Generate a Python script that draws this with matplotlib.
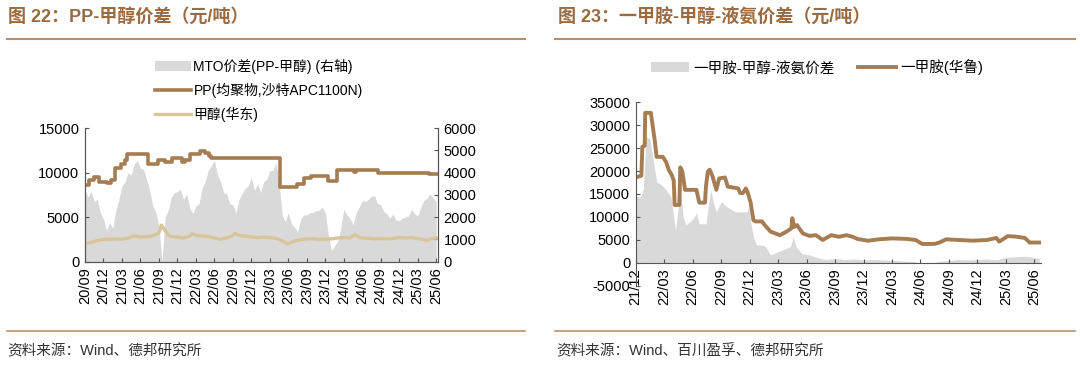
import numpy as np
import matplotlib
matplotlib.use("Agg")
import matplotlib.pyplot as plt
from matplotlib.patches import Patch
from matplotlib.lines import Line2D

plt.rcParams['font.family'] = ['Liberation Sans', 'Noto Sans CJK SC']
plt.rcParams['axes.unicode_minus'] = False

# ---- left chart data (months since 2020-09) ----
left_ticks = ['20/09', '20/12', '21/03', '21/06', '21/09', '21/12', '22/03', '22/06',
              '22/09', '22/12', '23/03', '23/06', '23/09', '23/12', '24/03', '24/06',
              '24/09', '24/12', '25/03', '25/06']

pp_m = [0, 0.6, 1.5, 2.3, 3.6, 4.3, 4.9, 5.9, 6.5, 6.8, 10.2, 11.8, 13.0, 14.1, 15.7,
        16.2, 17.0, 18.6, 19.5, 20.2, 20.5, 31.6, 34.4, 35.5, 36.6, 39.5, 40.9, 43.6,
        44.0, 47.6, 55.9, 57.3]
pp_v = [8600, 9180, 9550, 8990, 8800, 9200, 10560, 10950, 11430, 12070, 10950, 11430,
        11200, 11650, 11200, 11430, 12070, 12450, 12200, 11930, 11600, 8420, 8700, 9370,
        9660, 9065, 10300, 10100, 10300, 10000, 9800, 9800]

meoh_m = [0, 1, 2, 3, 4, 5, 6, 7, 8, 9, 10, 11, 12, 12.4, 13, 13.5, 14, 15, 16, 17,
          17.3, 18, 19, 20, 21, 22, 23, 24, 24.3, 25, 26, 27, 28, 29, 30, 31, 32,
          32.8, 34, 35, 36, 37, 38, 39, 40, 41, 42, 43, 43.8, 44.5, 45, 46, 47, 48,
          49, 50, 51, 52, 53, 54, 55, 55.5, 56, 57, 57.3]
meoh_v = [2050, 2150, 2350, 2500, 2480, 2550, 2500, 2650, 2900, 2750, 2800, 2900,
          3200, 4100, 3500, 3000, 2800, 2750, 2650, 2850, 3150, 2950, 2850, 2800,
          2650, 2500, 2650, 2900, 3150, 2950, 2850, 2750, 2700, 2750, 2700, 2600,
          2350, 1970, 2300, 2450, 2550, 2550, 2500, 2500, 2550, 2650, 2700, 2650,
          3050, 2700, 2650, 2600, 2550, 2600, 2550, 2600, 2700, 2650, 2700, 2600,
          2450, 2350, 2550, 2650, 2600]

mto_m = list(np.arange(0, 57.5, 0.5))
mto_v = [3200, 2900, 3150, 2700, 2800, 2200, 1900, 1400, 1750, 1500, 2300, 2800,
         3400, 3600, 4000, 3900, 4400, 4550, 4200, 4150, 3700, 3200, 2500, 2200,
         1600, 0, 2000, 2300, 2900, 3100, 3150, 3250, 2800, 3050, 2400, 2150,
         2500, 2600, 3300, 3600, 4100, 4300, 4550, 3900, 3600, 3100, 3050, 2600,
         2550, 2200, 2800, 3050, 3300, 3400, 3800, 3200, 3500, 3100, 3600, 3700,
         4100, 4100, 4450, 3600, 2100, 1800, 2200, 1700, 1550, 1350, 1900, 2100,
         2100, 2200, 2200, 2300, 2300, 2450, 2200, 1200, 500, 700, 900, 1500,
         2350, 2100, 1950, 1650, 2200, 2450, 2750, 2700, 2800, 2950, 2950, 2600,
         2550, 2250, 2150, 1950, 2150, 1850, 1850, 1950, 2000, 2050, 2350, 2150,
         2050, 2450, 2750, 2850, 3050, 2850, 2700]

# ---- right chart data (months since 2021-12) ----
right_ticks = ['21/12', '22/03', '22/06', '22/09', '22/12', '23/03', '23/06', '23/09',
               '23/12', '24/03', '24/06', '24/09', '24/12', '25/03', '25/06']

mma_m = [0, 0.6, 0.7, 0.95, 1.0, 1.6, 1.8, 2.0, 2.2, 2.85, 3.2, 3.5, 3.8, 4.0, 4.05,
         4.1, 4.6, 4.7, 4.9, 5.0, 5.2, 6.4, 6.7, 7.3, 7.4, 7.6, 7.8, 8.1, 8.5, 8.8,
         9.4, 9.7, 10.8, 11.0, 11.3, 11.6, 11.8, 12.1, 12.4, 12.6, 13.3, 13.6, 14.2,
         15.2, 15.9, 16.4, 16.5, 16.7, 17.0, 17.6, 18.3, 19.0, 19.7, 20.6, 21.4,
         22.2, 22.8, 23.4, 24.5, 25.6, 27.0, 28.5, 29.5, 30.2, 31.5, 32.0, 32.7,
         34.1, 35.5, 37.0, 38.0, 38.3, 39.2, 40.0, 41.0, 41.5, 42.5]
mma_v = [18600, 19000, 25300, 25500, 32700, 32700, 29700, 26800, 23100, 23100, 22000,
         20200, 19100, 18000, 15800, 12600, 12600, 20800, 20000, 18700, 15900, 15900,
         13100, 13100, 16600, 19900, 20300, 18800, 15900, 18400, 18600, 16600, 16200,
         15200, 15200, 16200, 15300, 13200, 9300, 9000, 9000, 8200, 6800, 6000, 6800,
         7500, 9700, 7800, 8200, 6400, 5850, 6000, 4950, 6000, 5670, 6000, 5700, 5160,
         4800, 5100, 5300, 5200, 4950, 4080, 4100, 4400, 5100, 4950, 4800, 4950, 5400,
         4600, 5800, 5700, 5400, 4400, 4400]

spread_m = [0, 0.5, 0.8, 1.1, 1.5, 1.9, 2.2, 2.7, 3.2, 3.7, 4.0, 4.2, 4.7, 5.0, 5.3,
            6.0, 6.4, 6.7, 7.4, 7.9, 8.2, 8.5, 9.0, 9.6, 10.5, 11.7, 11.9, 12.1, 12.4,
            12.7, 13.5, 13.8, 14.2, 15.0, 16.3, 16.6, 16.9, 17.5, 18.3, 19.4, 20, 21,
            22, 23, 24, 25, 26, 27, 28, 29, 29.5, 30, 31, 32, 33, 34, 35, 36, 37, 38,
            39, 40, 41, 41.5, 42, 42.5]
spread_v = [14500, 14300, 16000, 27500, 27000, 21700, 17700, 17000, 15900, 14400,
            10000, 7100, 15900, 10000, 8200, 9500, 10800, 8500, 8500, 15900, 13000,
            11100, 13300, 12200, 11100, 11100, 12200, 9000, 5700, 3900, 3800, 3100,
            1700, 2400, 3500, 5700, 3500, 2000, 1700, 950, 700, 900, 700, 800, 600,
            700, 600, 500, 400, 300, 200, -100, -200, 300, 500, 700, 600, 700, 800,
            600, 1200, 1300, 1400, 1300, 1100, 1000]

brown = '#A67C52'
tan = '#D9C59C'
grey = '#D9D9D9'
title_c = '#9A6A40'
rule_c = '#B8916C'

fig = plt.figure(figsize=(10.8, 3.68), dpi=100)

# ---- frame text ----
fig.text(0.0074, 0.951, '图 22：PP-甲醇价差（元/吨）', fontsize=13, fontweight='bold',
         color=title_c, va='center')
fig.text(0.5165, 0.951, '图 23：一甲胺-甲醇-液氨价差（元/吨）', fontsize=13,
         fontweight='bold', color=title_c, va='center')
for x0, x1 in [(0.0065, 0.486), (0.514, 0.995)]:
    fig.add_artist(Line2D([x0, x1], [0.895, 0.895], color=rule_c, lw=1.5))
    fig.add_artist(Line2D([x0, x1], [0.1005, 0.1005], color=rule_c, lw=1.2))
fig.text(0.0065, 0.045, '资料来源：Wind、德邦研究所', fontsize=10.5, color='#333333', va='center')
fig.text(0.5155, 0.045, '资料来源：Wind、百川盈孚、德邦研究所', fontsize=10.5,
         color='#333333', va='center')

# ---- left chart ----
ax = fig.add_axes([0.0787, 0.2894, 0.3269, 0.362])
ax2 = ax.twinx()
ax2.fill_between(mto_m, 0, mto_v, color=grey, lw=0)
ax.plot(pp_m, pp_v, color=brown, lw=2.6, drawstyle='steps-post')
ax.plot(meoh_m, meoh_v, color=tan, lw=2.4)
ax.set_zorder(ax2.get_zorder() + 1)
ax.patch.set_visible(False)

ax.set_xlim(0, 57.3)
ax.set_ylim(0, 15000)
ax2.set_ylim(0, 6000)
ax.set_yticks(range(0, 15001, 5000))
ax2.set_yticks(range(0, 6001, 1000))
ax.set_xticks(range(0, 58, 3))
ax.set_xticklabels(left_ticks, rotation=90)
for a in (ax, ax2):
    a.spines['top'].set_visible(False)
    for s in a.spines.values():
        s.set_color('#555555')
        s.set_linewidth(0.8)
    a.tick_params(direction='in', length=3, labelsize=10.5, color='#555555', pad=4)

fig.legend(handles=[Patch(color=grey, lw=0),
                    Line2D([], [], color=brown, lw=2.6),
                    Line2D([], [], color=tan, lw=2.4)],
           labels=['MTO价差(PP-甲醇) (右轴)', 'PP(均聚物,沙特APC1100N)', '甲醇(华东)'],
           loc='upper left', bbox_to_anchor=(0.138, 0.855), frameon=False,
           fontsize=10, handlelength=2.6, handletextpad=0.2, labelspacing=0.62,
           borderaxespad=0)

# ---- right chart ----
bx = fig.add_axes([0.5886, 0.2239, 0.3753, 0.4981])
bx.spines['top'].set_visible(False)
bx.spines['right'].set_visible(False)
bx.spines['bottom'].set_position(('data', 0))
bx.fill_between(spread_m, 0, spread_v, color=grey, lw=0)
bx.plot(mma_m, mma_v, color=brown, lw=2.8)
bx.set_xlim(0, 42.7)
bx.set_ylim(-5000, 35000)
bx.set_yticks(range(-5000, 35001, 5000))
bx.set_xticks(range(0, 43, 3))
bx.set_xticklabels(right_ticks, rotation=90)
for s in bx.spines.values():
    s.set_color('#555555')
    s.set_linewidth(0.8)
bx.tick_params(direction='in', length=3, labelsize=10.5, color='#555555', pad=4)

fig.legend(handles=[Patch(color=grey, lw=0), Line2D([], [], color=brown, lw=2.8)],
           labels=['一甲胺-甲醇-液氨价差', '一甲胺(华鲁)'],
           loc='center', bbox_to_anchor=(0.757, 0.817), ncol=2, frameon=False,
           fontsize=10.5, handlelength=2.6, handletextpad=0.3, columnspacing=1.6)

fig.savefig('out.png', dpi=100)
